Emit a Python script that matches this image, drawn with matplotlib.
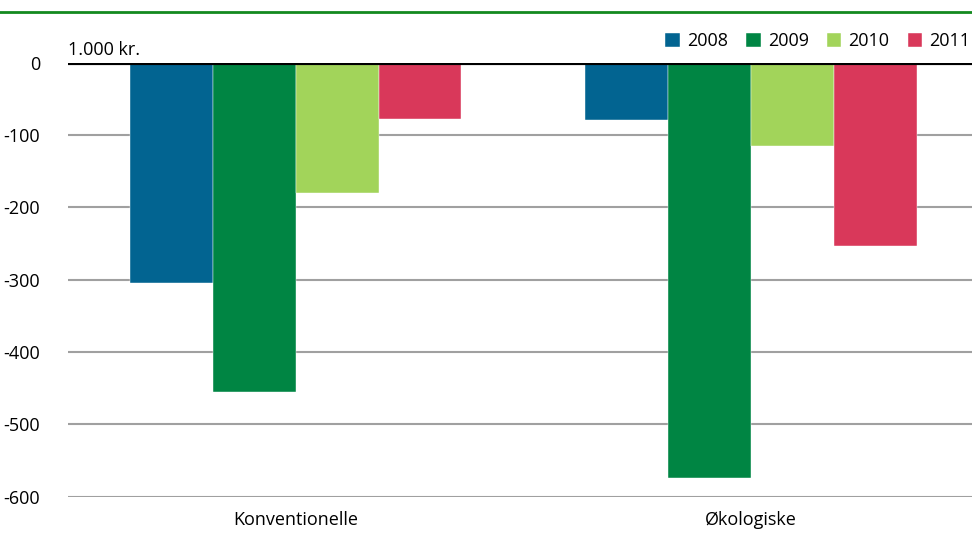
import numpy as np
import matplotlib.pyplot as plt

# Data (1.000 kr.)
categories = ['Konventionelle', 'Økologiske']
years = ['2008', '2009', '2010', '2011']
v2008 = [-305, -79]
v2009 = [-455, -574]
v2010 = [-180, -115]
v2011 = [-78, -254]
colors = ['#026491', '#008543', '#a2d45a', '#d9385a']

plt.rcParams['font.family'] = ['Open Sans', 'DejaVu Sans']
plt.rcParams['axes.unicode_minus'] = False

fig = plt.figure(figsize=(9.72, 5.33), dpi=100)
ax = fig.add_axes([68/972, 1 - 496.7/533, 1 - 68/972, (496.7 - 62.7)/533])

x = np.arange(len(categories))
w = 0.182
for i, (vals, c, yr) in enumerate(zip([v2008, v2009, v2010, v2011], colors, years)):
    ax.bar(x + (i - 1.5) * w, vals, w, color=c, label=yr, zorder=3,
           edgecolor='white', linewidth=0.3)

ax.set_ylim(-600, 0)
ax.set_xlim(-0.5, 1.485)
ax.set_yticks(range(-600, 1, 100))
ax.yaxis.grid(True, color='#a0a0a0', linewidth=1.5, zorder=0)
ax.axhline(0, color='black', linewidth=3, zorder=4)
for s in ax.spines.values():
    s.set_visible(False)
ax.tick_params(axis='y', length=0, pad=20, labelsize=13)
ax.tick_params(axis='x', length=0, pad=10, labelsize=13)
ax.set_xticks(x)
ax.set_xticklabels(categories)

# unit label above the axis
ax.text(0.0, 1.008, '1.000 kr.', transform=ax.transAxes,
        fontsize=13, ha='left', va='bottom')

leg = ax.legend(loc='lower right', bbox_to_anchor=(1.0, 1.025), ncol=4, frameon=False,
                fontsize=13, handlelength=0.8, handleheight=0.8, handletextpad=0.4,
                columnspacing=1.0, borderaxespad=0.0, borderpad=0.1)

# top green rule
fig.add_artist(plt.Line2D([0, 1], [1 - 12/533, 1 - 12/533], color='#138a1f',
                          linewidth=2, transform=fig.transFigure))

fig.savefig('out.png', dpi=100)
